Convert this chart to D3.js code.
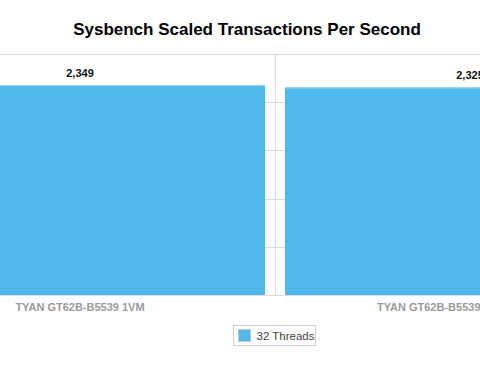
<!DOCTYPE html>
<html>
<head>
<meta charset="utf-8">
<script src="https://cdn.jsdelivr.net/npm/d3@7"></script>
<style>
  body { margin: 0; background: #fff; }
  svg { display: block; font-family: "Liberation Sans", Arial, Helvetica, sans-serif; }
</style>
</head>
<body>
<svg id="chart" width="480" height="378"></svg>
<script>
// chart data
var categories = ["TYAN GT62B-B5539 1VM", "TYAN GT62B-B5539 2VM Combined"];
var seriesName = "32 Threads";
var values = [2349, 2325];
var yTicks = [0, 540, 1080, 1620, 2160, 2700];

var svg = d3.select("#chart");
var plotTop = 54, plotBottom = 295;

// plot is wider than the window, so it gets clipped on both sides
var x = d3.scaleBand().domain(categories).range([-115, 665]).padding(0);
var y = d3.scaleLinear().domain([0, d3.max(yTicks)]).range([plotBottom, plotTop]);

// title
svg.append("text")
    .attr("x", 247).attr("y", 35)
    .attr("text-anchor", "middle")
    .style("font-size", "17px").style("font-weight", "bold").style("fill", "#000")
    .text("Sysbench Scaled Transactions Per Second");

// horizontal gridlines
svg.append("g").selectAll("line").data(yTicks).join("line")
    .attr("x1", 0).attr("x2", 480)
    .attr("y1", function(d) { return Math.round(y(d)) + 0.5; })
    .attr("y2", function(d) { return Math.round(y(d)) + 0.5; })
    .attr("stroke", "#dcdcdc").attr("stroke-width", 1);

// vertical separators between categories
svg.append("g").selectAll("line").data(categories.slice(1)).join("line")
    .attr("x1", function(d) { return Math.round(x(d)) + 0.5; })
    .attr("x2", function(d) { return Math.round(x(d)) + 0.5; })
    .attr("y1", plotTop).attr("y2", plotBottom)
    .attr("stroke", "#dcdcdc").attr("stroke-width", 1);

// bars
var gap = 10;
svg.append("g").selectAll("rect").data(values).join("rect")
    .attr("x", function(d, i) { return x(categories[i]) + gap; })
    .attr("width", x.bandwidth() - 2 * gap)
    .attr("y", function(d) { return y(d); })
    .attr("height", function(d) { return plotBottom - y(d); })
    .attr("fill", "#4fb9eb");

// bar top highlight
svg.append("g").selectAll("line").data(values).join("line")
    .attr("x1", function(d, i) { return x(categories[i]) + gap; })
    .attr("x2", function(d, i) { return x(categories[i]) + x.bandwidth() - gap; })
    .attr("y1", function(d) { return y(d) + 0.5; })
    .attr("y2", function(d) { return y(d) + 0.5; })
    .attr("stroke", "#8fd2f3").attr("stroke-width", 1);

// value labels
svg.append("g").selectAll("text").data(values).join("text")
    .attr("x", function(d, i) { return x(categories[i]) + x.bandwidth() / 2; })
    .attr("y", function(d) { return y(d) - 8; })
    .attr("text-anchor", "middle")
    .style("font-size", "11px").style("font-weight", "bold").style("fill", "#111")
    .text(function(d) { return d3.format(",")(d); });

// category labels
svg.append("g").selectAll("text").data(categories).join("text")
    .attr("x", function(d) { return x(d) + x.bandwidth() / 2; })
    .attr("y", 311)
    .attr("text-anchor", "middle")
    .style("font-size", "11px").style("font-weight", "bold").style("fill", "#9a9a9a")
    .text(function(d) { return d; });

// legend
var legend = svg.append("g").attr("transform", "translate(233.5,325.5)");
legend.append("rect")
    .attr("width", 82).attr("height", 20)
    .attr("fill", "#fff").attr("stroke", "#cfcfcf");
legend.append("rect")
    .attr("x", 5).attr("y", 4).attr("width", 12).attr("height", 12)
    .attr("fill", "#4fb9eb").attr("stroke", "#c8c8c8");
legend.append("text")
    .attr("x", 23).attr("y", 14)
    .style("font-size", "11.5px").style("fill", "#444")
    .text(seriesName);
</script>
</body>
</html>
